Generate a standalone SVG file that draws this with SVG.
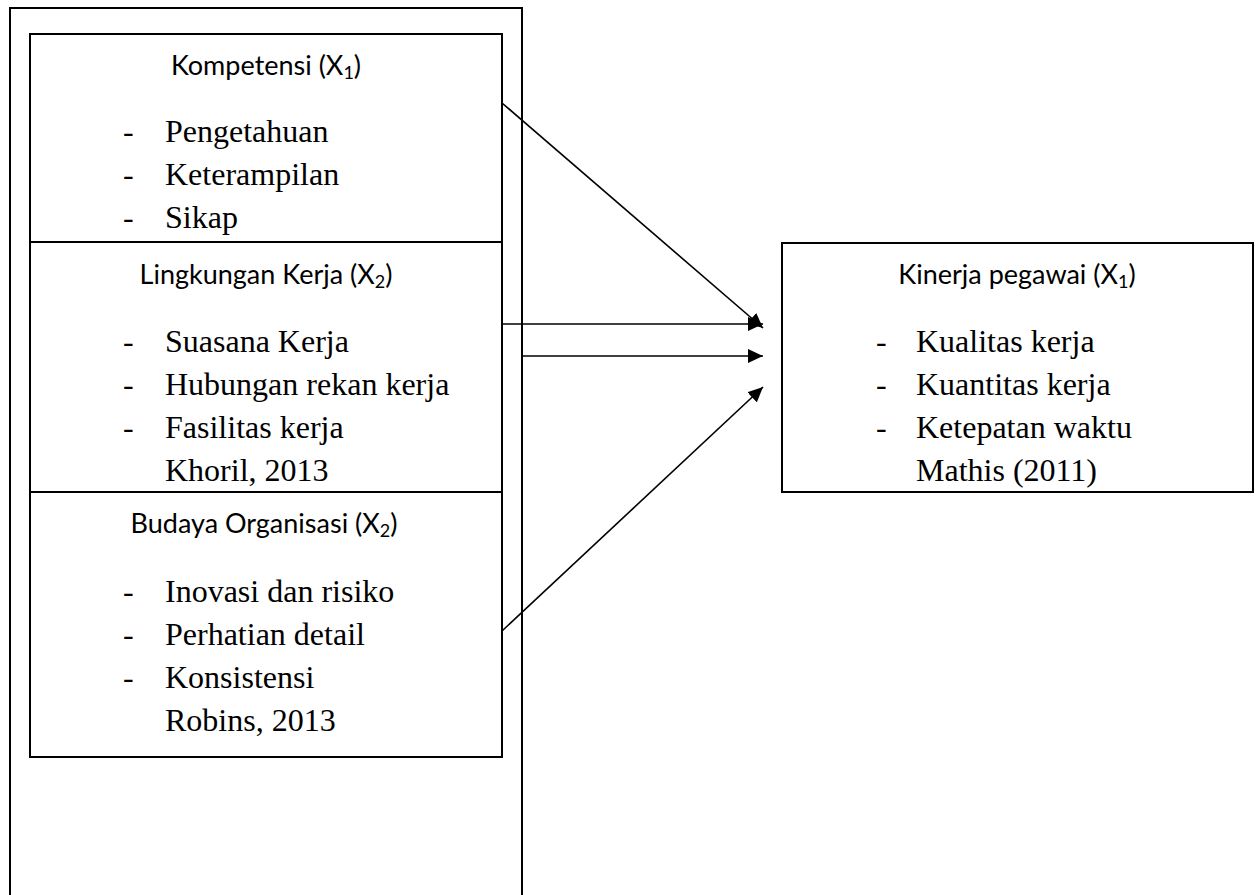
<svg xmlns="http://www.w3.org/2000/svg" width="1258" height="895" viewBox="0 0 1258 895">
<style>
.box{fill:none;stroke:#000;stroke-width:2}
.title{font-family:Lato,"Open Sans","Liberation Sans",sans-serif;font-size:27px;fill:#000;text-anchor:middle}
.sub{font-size:18px}
.body{font-family:"Liberation Serif","Times New Roman",serif;font-size:32px;fill:#000}
.conn{stroke:#000;stroke-width:1.6;fill:none}
</style>
<defs>
<marker id="arrow" markerUnits="userSpaceOnUse" markerWidth="16" markerHeight="14" refX="15" refY="7" orient="auto">
<path d="M0,0 L15,7 L0,14 z" fill="#000"/>
</marker>
</defs>
<rect width="1258" height="895" fill="#fff"/>
<g id="outer">
<rect class="box" x="10" y="8" width="512" height="900"/>
</g>
<g id="kompetensi">
<rect class="box" x="30" y="34" width="472" height="208"/>
<text class="title" x="266" y="75">Kompetensi (X<tspan class="sub" dy="4">1</tspan><tspan dy="-4">)</tspan></text>
<text class="body" x="123" y="142">-</text><text class="body" x="165" y="142">Pengetahuan</text>
<text class="body" x="123" y="185">-</text><text class="body" x="165" y="185">Keterampilan</text>
<text class="body" x="123" y="228">-</text><text class="body" x="165" y="228">Sikap</text>
</g>
<g id="lingkungan">
<rect class="box" x="30" y="242" width="472" height="250"/>
<text class="title" x="266" y="284">Lingkungan Kerja (X<tspan class="sub" dy="4">2</tspan><tspan dy="-4">)</tspan></text>
<text class="body" x="123" y="352">-</text><text class="body" x="165" y="352">Suasana Kerja</text>
<text class="body" x="123" y="395">-</text><text class="body" x="165" y="395">Hubungan rekan kerja</text>
<text class="body" x="123" y="438">-</text><text class="body" x="165" y="438">Fasilitas kerja</text>
<text class="body" x="165" y="481">Khoril, 2013</text>
</g>
<g id="budaya">
<rect class="box" x="30" y="492" width="472" height="265"/>
<text class="title" x="264" y="533">Budaya Organisasi (X<tspan class="sub" dy="4">2</tspan><tspan dy="-4">)</tspan></text>
<text class="body" x="123" y="602">-</text><text class="body" x="165" y="602">Inovasi dan risiko</text>
<text class="body" x="123" y="645">-</text><text class="body" x="165" y="645">Perhatian detail</text>
<text class="body" x="123" y="688">-</text><text class="body" x="165" y="688">Konsistensi</text>
<text class="body" x="165" y="731">Robins, 2013</text>
</g>
<g id="kinerja">
<rect class="box" x="782" y="243" width="471" height="249"/>
<text class="title" x="1017" y="284">Kinerja pegawai (X<tspan class="sub" dy="4">1</tspan><tspan dy="-4">)</tspan></text>
<text class="body" x="876" y="352">-</text><text class="body" x="916" y="352">Kualitas kerja</text>
<text class="body" x="876" y="395">-</text><text class="body" x="916" y="395">Kuantitas kerja</text>
<text class="body" x="876" y="438">-</text><text class="body" x="916" y="438">Ketepatan waktu</text>
<text class="body" x="916" y="481">Mathis (2011)</text>
</g>
<g id="connectors">
<line class="conn" x1="502" y1="103" x2="763" y2="328" marker-end="url(#arrow)"/>
<line class="conn" x1="502" y1="324" x2="763" y2="324" marker-end="url(#arrow)"/>
<line class="conn" x1="522" y1="356" x2="763" y2="356" marker-end="url(#arrow)"/>
<line class="conn" x1="502" y1="631" x2="763" y2="387" marker-end="url(#arrow)"/>
</g>
</svg>
